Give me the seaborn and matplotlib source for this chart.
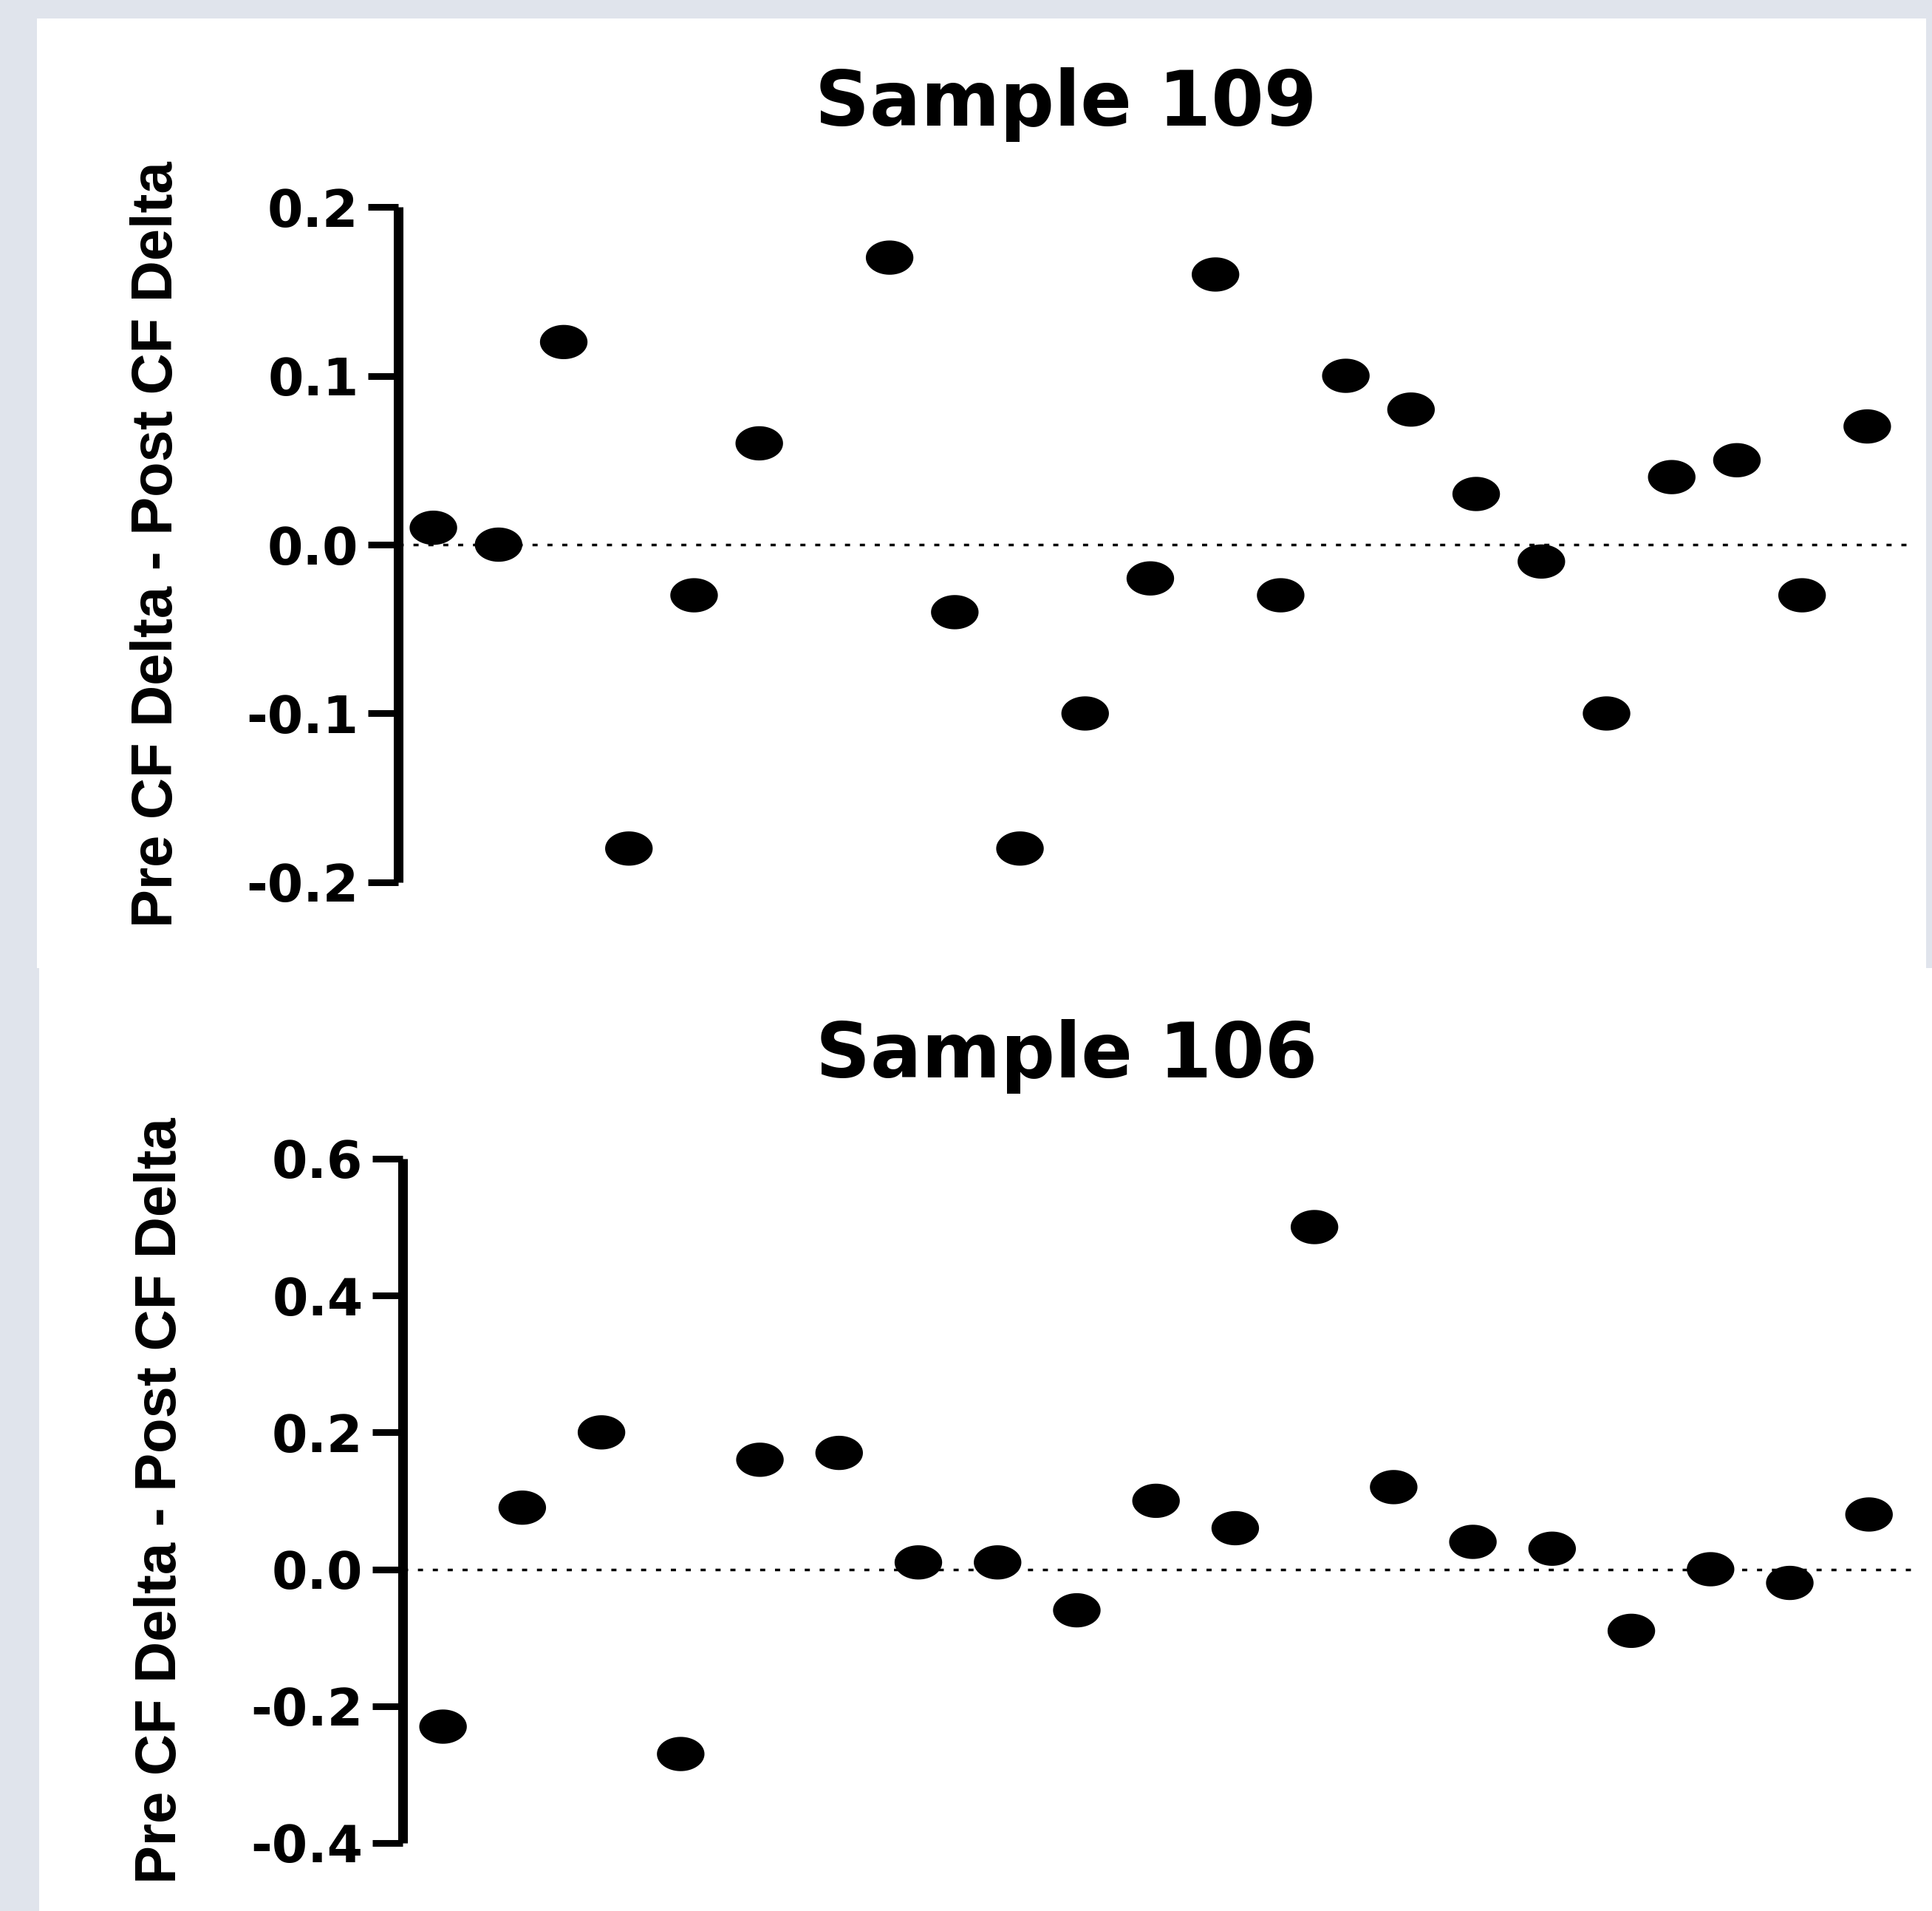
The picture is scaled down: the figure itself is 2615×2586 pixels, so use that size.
import numpy as np
import seaborn as sns
import matplotlib.pyplot as plt
from matplotlib.patches import Rectangle
from matplotlib.ticker import FormatStrFormatter

# ==========================================
# DATA
# ==========================================

y_label = "Pre CF Delta - Post CF Delta"

title_109 = "Sample 109"
sample_109 = [0.01, 0.0, 0.12, -0.18, -0.03, 0.06, np.nan, 0.17, -0.04,
              -0.18, -0.10, -0.02, 0.16, -0.03, 0.10, 0.08, 0.03, -0.01,
              -0.10, 0.04, 0.05, -0.03, 0.07]
ticks_109 = [-0.2, -0.1, 0.0, 0.1, 0.2]

title_106 = "Sample 106"
sample_106 = [-0.23, 0.09, 0.20, -0.27, 0.16, 0.17, 0.01, 0.01, -0.06,
              0.10, 0.06, 0.50, 0.12, 0.04, 0.03, -0.09, 0.0, -0.02, 0.08]
ticks_106 = [-0.4, -0.2, 0.0, 0.2, 0.4, 0.6]

# ==========================================
# STYLE
# ==========================================

sns.set_style("white")
plt.rcParams["font.family"] = ["DejaVu Sans"]
plt.rcParams["axes.unicode_minus"] = False
plt.rcParams["text.color"] = "black"
plt.rcParams["ytick.color"] = "black"
plt.rcParams["axes.labelcolor"] = "black"

# slightly flattened dot, like the reference
t = np.linspace(0, 2 * np.pi, 64)
ellipse = list(zip(np.cos(t), 0.72 * np.sin(t)))

fig = plt.figure(figsize=(26.15, 25.86), dpi=100)
fig.patch.set_facecolor("#e0e4ec")

# white panels behind each chart
fig.add_artist(Rectangle((0.0191, 0.4934), 0.9779, 0.4969,
                         transform=fig.transFigure, facecolor="white",
                         edgecolor="none", zorder=-1))
fig.add_artist(Rectangle((0.0203, 0.0), 0.9797, 0.4934,
                         transform=fig.transFigure, facecolor="white",
                         edgecolor="none", zorder=-1))


def draw_panel(ax, values, ticks, title, xlim, title_x, label_x):
    positions = list(range(len(values)))

    ax.axhline(0, color="black", lw=2.5, linestyle=(0, (2.0, 3.8)), zorder=1)

    sns.scatterplot(
        x=positions,
        y=values,
        ax=ax,
        marker=ellipse,
        s=2150,
        color="black",
        edgecolor="none",
        linewidth=0,
        clip_on=False,
        zorder=3
    )

    ax.set_facecolor("none")
    ax.set_xlim(*xlim)
    ax.set_ylim(ticks[0], ticks[-1])
    ax.set_yticks(ticks)
    ax.yaxis.set_major_formatter(FormatStrFormatter("%.1f"))
    ax.set_xticks([])

    for side in ["top", "right", "bottom"]:
        ax.spines[side].set_visible(False)
    ax.spines["left"].set_linewidth(9.4)
    ax.spines["left"].set_color("black")
    ax.spines["left"].set_capstyle("butt")

    ax.tick_params(axis="y", left=True, direction="out", length=29.5,
                   width=6.5, color="black", labelcolor="black", pad=9,
                   labelsize=50)
    for lbl in ax.get_yticklabels():
        lbl.set_fontweight("bold")

    ax.set_title(title, x=title_x, pad=79, fontsize=74, fontweight="bold",
                 color="black")

    ax.set_ylabel(y_label, fontsize=56, fontweight="bold", va="center",
                  family="Liberation Sans", color="black")
    ax.yaxis.set_label_coords(label_x, 0.5)


# ==========================================
# TOP PANEL
# ==========================================

ax1 = fig.add_axes([0.2061, 0.5383, 0.7813, 0.3534])
draw_panel(ax1, sample_109, ticks_109, title_109, (-0.54, 22.62), 0.4425, -0.1596)

# ==========================================
# BOTTOM PANEL
# ==========================================

ax2 = fig.add_axes([0.2084, 0.0356, 0.7836, 0.3581])
draw_panel(ax2, sample_106, ticks_106, title_106, (-0.51, 18.6), 0.4387, -0.1600)

fig.savefig("out.png", dpi=100, facecolor=fig.get_facecolor())
